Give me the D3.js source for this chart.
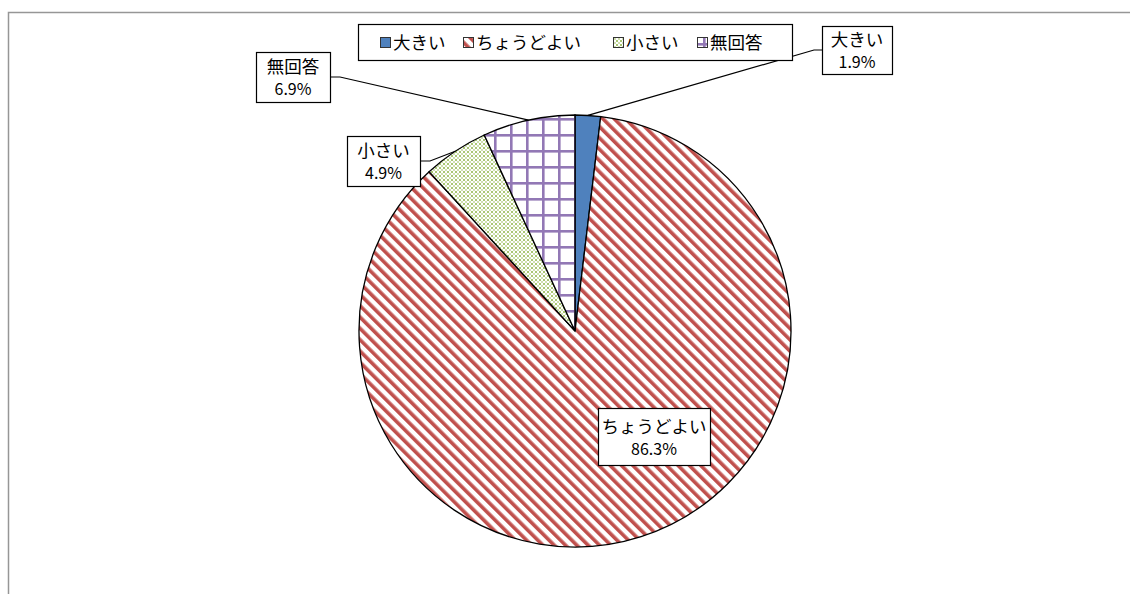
<!DOCTYPE html>
<html>
<head>
<meta charset="utf-8">
<script src="https://cdn.jsdelivr.net/npm/d3@7"></script>
<style>
  body { margin: 0; background: #fff; }
  text { font-family: "Noto Sans CJK JP", "Noto Sans", sans-serif; }
</style>
</head>
<body>
<div id="chart"></div>
<script>
var categories = ['大きい', 'ちょうどよい', '小さい', '無回答'];
var percents = [1.9, 86.3, 4.9, 6.9];
var pct_labels = ['1.9%', '86.3%', '4.9%', '6.9%'];

var width = 1130, height = 594;
var cx = 575, cy = 331, radius = 216;

var svg = d3.select('#chart').append('svg')
  .attr('width', width)
  .attr('height', height);

// outer chart frame (runs off the page right and bottom)
svg.append('rect')
  .attr('x', 8.5).attr('y', 12.5)
  .attr('width', 1200).attr('height', 700)
  .attr('fill', '#fff')
  .attr('stroke', '#969696')
  .attr('stroke-width', 1.5);

var defs = svg.append('defs');

var fills = ['#4f81bd', 'url(#stripes)', 'url(#dots)', 'url(#grid)'];

var stripes = defs.append('pattern')
  .attr('id', 'stripes')
  .attr('patternUnits', 'userSpaceOnUse')
  .attr('width', 8).attr('height', 8)
  .attr('patternTransform', 'rotate(-45)');
stripes.append('rect').attr('width', 8).attr('height', 8).attr('fill', '#fff');
stripes.append('rect').attr('width', 3.6).attr('height', 8).attr('fill', '#c0504d');

var dots = defs.append('pattern')
  .attr('id', 'dots')
  .attr('patternUnits', 'userSpaceOnUse')
  .attr('width', 4).attr('height', 4);
dots.append('rect').attr('width', 4).attr('height', 4).attr('fill', '#fff');
dots.append('rect').attr('x', 0).attr('y', 0).attr('width', 2).attr('height', 2).attr('fill', '#aac774');
dots.append('rect').attr('x', 2).attr('y', 2).attr('width', 2).attr('height', 2).attr('fill', '#cfdfb0');

var grid = defs.append('pattern')
  .attr('id', 'grid')
  .attr('patternUnits', 'userSpaceOnUse')
  .attr('width', 16).attr('height', 16)
  .attr('x', cx).attr('y', cy);
grid.append('rect').attr('width', 16).attr('height', 16).attr('fill', '#fff');
grid.append('rect').attr('x', 0).attr('width', 2.6).attr('height', 16).attr('fill', '#9278b5');
grid.append('rect').attr('y', 0).attr('width', 16).attr('height', 2.6).attr('fill', '#9278b5');

var pie = d3.pie().sort(null).value(function(d) { return d; });
var arcs = pie(percents);
var arc = d3.arc().innerRadius(0).outerRadius(radius);

var g = svg.append('g').attr('transform', 'translate(' + cx + ',' + cy + ')');

g.selectAll('path.slice')
  .data(arcs)
  .enter().append('path')
  .attr('class', 'slice')
  .attr('d', arc)
  .attr('fill', function(d, i) { return fills[i]; })
  .attr('stroke', '#000')
  .attr('stroke-width', 1.3);

// data labels: box positions (top-left)
var label_boxes = [
  { x: 822, y: 26, w: 70, h: 48, side: 'left' },
  { x: 598, y: 408, w: 112, h: 57, side: null },
  { x: 347, y: 136, w: 73, h: 50, side: 'right' },
  { x: 256, y: 52, w: 74, h: 50, side: 'right' }
];

var edge = d3.arc().innerRadius(radius).outerRadius(radius);

arcs.forEach(function(a, i) {
  var b = label_boxes[i];
  if (b.side) {
    var p = edge.centroid(a);
    var px = cx + p[0], py = cy + p[1];
    var pts;
    if (b.side === 'left') {
      pts = [[b.x, b.y + b.h / 2], [b.x - 8, b.y + b.h / 2], [px, py]];
    } else {
      pts = [[b.x + b.w, b.y + b.h / 2], [b.x + b.w + 10, b.y + b.h / 2], [px, py]];
    }
    svg.append('path')
      .attr('d', d3.line()(pts))
      .attr('fill', 'none')
      .attr('stroke', '#000')
      .attr('stroke-width', 1.2);
  }
  svg.append('rect')
    .attr('x', b.x + 0.5).attr('y', b.y + 0.5)
    .attr('width', b.w).attr('height', b.h)
    .attr('fill', '#fff')
    .attr('stroke', '#000')
    .attr('stroke-width', 1.2);
  svg.append('text')
    .attr('x', b.x + b.w / 2).attr('y', b.y + b.h / 2 - 4)
    .attr('text-anchor', 'middle')
    .attr('font-size', 17.5)
    .attr('fill', '#000')
    .text(categories[i]);
  svg.append('text')
    .attr('x', b.x + b.w / 2).attr('y', b.y + b.h / 2 + 18)
    .attr('text-anchor', 'middle')
    .attr('font-size', 16)
    .attr('fill', '#000')
    .text(pct_labels[i]);
});

// legend
var legend = svg.append('g');
legend.append('rect')
  .attr('x', 358.5).attr('y', 24.5)
  .attr('width', 434).attr('height', 36)
  .attr('fill', '#fff')
  .attr('stroke', '#000')
  .attr('stroke-width', 1.2);

var legend_x = [380, 463, 613, 697];
categories.forEach(function(c, i) {
  legend.append('rect')
    .attr('x', legend_x[i] + 0.5).attr('y', 37.5)
    .attr('width', 10).attr('height', 10)
    .attr('fill', fills[i])
    .attr('stroke', '#333')
    .attr('stroke-width', 1);
  legend.append('text')
    .attr('x', legend_x[i] + 13).attr('y', 49)
    .attr('font-size', 17.5)
    .attr('fill', '#000')
    .text(c);
});
</script>
</body>
</html>
